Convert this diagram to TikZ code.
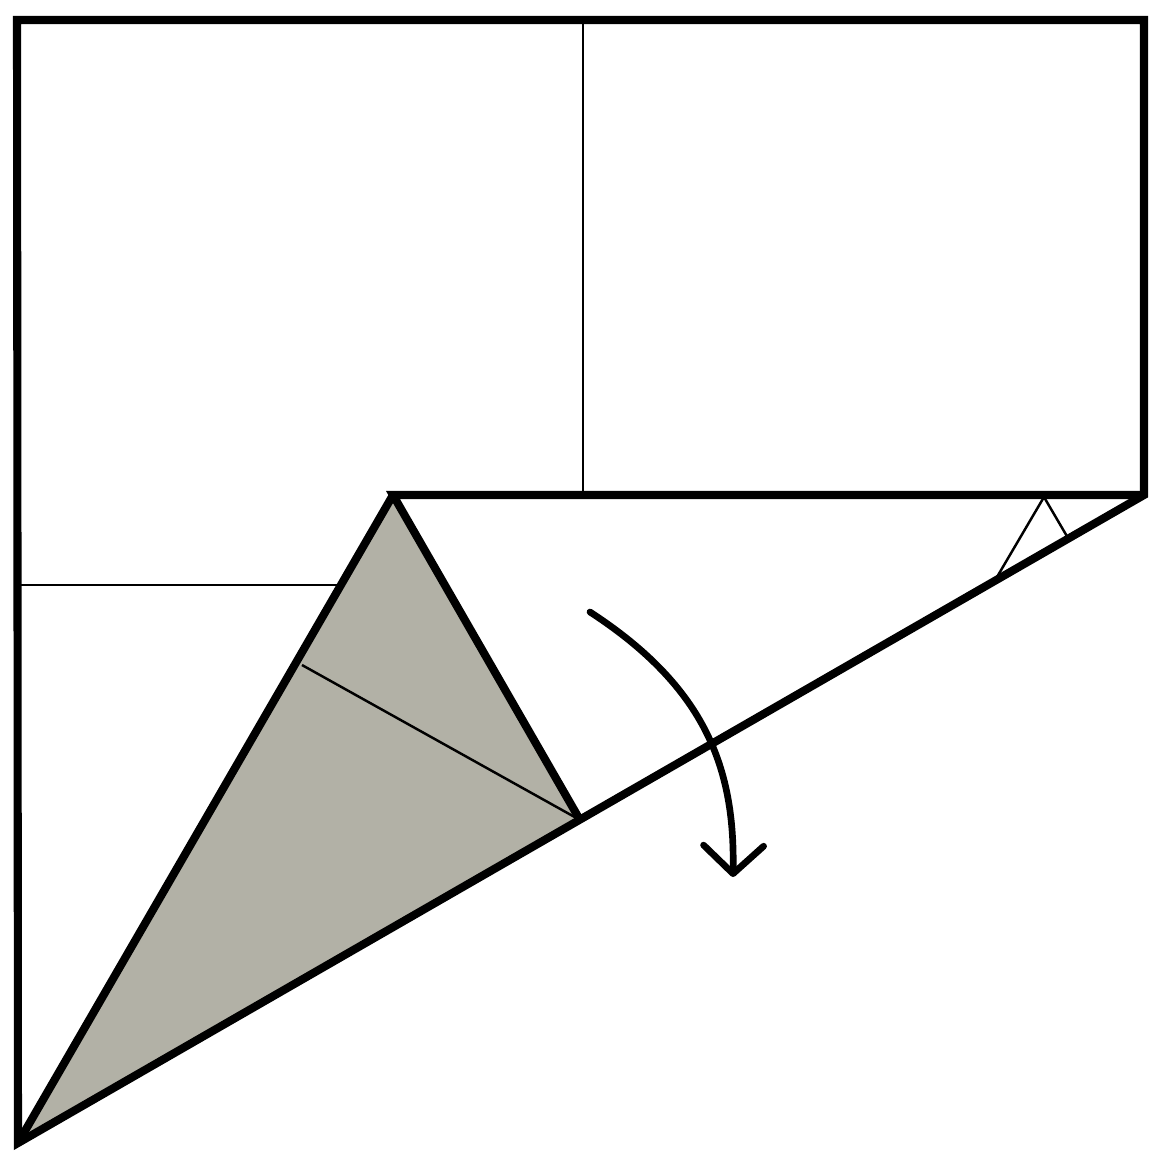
\documentclass[tikz,border=0pt]{standalone}
\usetikzlibrary{arrows.meta}
\definecolor{flapgrey}{RGB}{178,177,166}
\tikzset{
  edge/.style={line width=2.3pt, line join=miter},
  crease/.style={line width=0.7pt},
  foldarrow/.style={line width=1.9pt, line cap=round,
    -{Straight Barb[length=2.8mm,width=6mm,round]}},
}
\begin{document}
\begin{tikzpicture}[x=0.01cm,y=-0.01cm]
    \useasboundingbox (0,0) rectangle (1152,1162);
    % corners of the paper
    \coordinate (TL) at (17,20);
    \coordinate (TR) at (1144,20);
    \coordinate (R) at (1144,495);
    \coordinate (BL) at (18,1143);
    % flap
    \coordinate (A) at (393,495);
    \coordinate (C) at (580,820);
    \coordinate (M) at (302,665);

    % grey flap
    \fill[flapgrey] (A) -- (BL) -- (C) -- cycle;

    % creases
    \draw[crease] (583,20) -- (583,495);
    \draw[crease] (17,585) -- (340,585);
    \draw[crease] (M) -- (C);
    \draw[crease] (997,577) -- (1044,497) -- (1068,538);

    % outline
    \draw[edge] (TL) -- (TR) -- (R) -- (BL) -- cycle;
    \draw[edge] (R) -- (A) -- (C);
    \draw[edge] (A) -- (BL);

    % fold arrow
    \draw[foldarrow] (590,612) .. controls (707,688) and (735,770) .. (733,877);
\end{tikzpicture}
\end{document}
